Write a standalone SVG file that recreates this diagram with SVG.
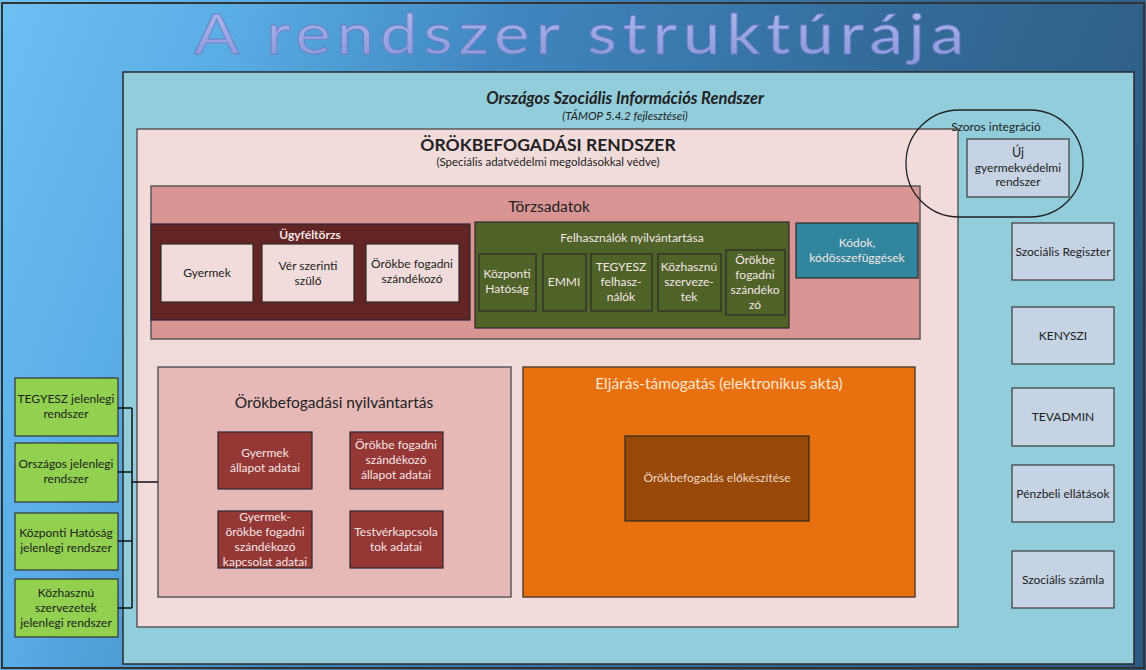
<svg xmlns="http://www.w3.org/2000/svg" width="1146" height="670" viewBox="0 0 1146 670">
  <defs>
    <linearGradient id="bg" x1="0" y1="0" x2="1146" y2="420" gradientUnits="userSpaceOnUse">
      <stop offset="0" stop-color="#6cc0f2"/>
      <stop offset="0.18" stop-color="#5aaee6"/>
      <stop offset="0.4" stop-color="#3f86bf"/>
      <stop offset="0.7" stop-color="#336b98"/>
      <stop offset="1" stop-color="#2c5a80"/>
    </linearGradient>
    <linearGradient id="titleFill" x1="0" y1="0" x2="0" y2="1">
      <stop offset="0" stop-color="#b3bdee"/>
      <stop offset="1" stop-color="#8895d8"/>
    </linearGradient>
  </defs>
  <style>
    text { font-family: Lato, "Open Sans", "Liberation Sans", sans-serif; text-anchor: middle; }
    .frame { stroke: #5a5a5a; stroke-width: 1.5; }
    .box { stroke: #2b2b2b; stroke-width: 1.2; }
    .ext { fill: #c6d3e4; stroke: #3a3a3a; stroke-width: 1.2; }
    .legacy { fill: #92d050; stroke: #333; stroke-width: 1.2; }
    .wire { fill: none; stroke: #111; stroke-width: 1.5; }
    .sm { font-size: 12px; }
    .dark { fill: #222; }
    .light { fill: #f3e6e6; }
  </style>

  <!-- slide background -->
  <rect x="0" y="0" width="1146" height="670" fill="url(#bg)"/>
  <rect x="2" y="3" width="1142" height="665" fill="none" stroke="#333" stroke-width="2"/>

  <!-- heading -->
  <text x="582" y="54" font-size="57" letter-spacing="5" fill="url(#titleFill)" stroke="#6d7cc4" stroke-width="0.8" textLength="776" lengthAdjust="spacingAndGlyphs">A rendszer struktúrája</text>

  <!-- national system container -->
  <g id="osir">
    <rect x="123" y="72" width="1011" height="592" fill="#92cddc" stroke="#2b2b2b" stroke-width="1.5"/>
    <text x="625" y="104" font-size="16.5" font-weight="bold" font-style="italic" class="dark">Országos Szociális Információs Rendszer</text>
    <text x="625" y="120" font-size="11.5" font-style="italic" class="dark">(TÁMOP 5.4.2 fejlesztései)</text>
  </g>

  <!-- adoption system container -->
  <g id="adoption-system">
    <rect x="137" y="129" width="821" height="498" fill="#f2dcdb" class="frame"/>
    <text x="548" y="151" font-size="17.5" font-weight="bold" class="dark">ÖRÖKBEFOGADÁSI RENDSZER</text>
    <text x="548" y="166" font-size="11.5" class="dark">(Speciális adatvédelmi megoldásokkal védve)</text>
  </g>

  <!-- master data -->
  <g id="torzsadatok">
    <rect x="151" y="186" width="769" height="153" fill="#d99594" class="frame"/>
    <text x="549" y="212" font-size="15.5" class="dark">Törzsadatok</text>
  </g>

  <g id="ugyfeltorzs">
    <rect x="151" y="224" width="319" height="96" fill="#632523" class="box"/>
    <text x="310" y="239" font-size="12" font-weight="bold" class="light">Ügyféltörzs</text>
  </g>
  <g id="gyermek">
    <rect x="161" y="244" width="92" height="58" fill="#f2dcdb" class="box"/>
    <text x="207" y="277" class="sm dark">Gyermek</text>
  </g>
  <g id="ver-szerinti-szulo">
    <rect x="262" y="244" width="92" height="58" fill="#f2dcdb" class="box"/>
    <text x="308" y="270" class="sm dark">Vér szerinti</text>
    <text x="308" y="285" class="sm dark">szülő</text>
  </g>
  <g id="orokbe-fogadni-szandekozo">
    <rect x="366" y="244" width="93" height="58" fill="#f2dcdb" class="box"/>
    <text x="412" y="268" class="sm dark">Örökbe fogadni</text>
    <text x="412" y="283" class="sm dark">szándékozó</text>
  </g>

  <g id="felhasznalok">
    <rect x="475" y="222" width="314" height="106" fill="#4f6228" class="box"/>
    <text x="632" y="242" font-size="12" class="light">Felhasználók nyilvántartása</text>
  </g>
  <g id="kozponti-hatosag">
    <rect x="479" y="254" width="57" height="57" fill="#4f6228" class="box"/>
    <text x="507" y="278" class="sm light">Központi</text>
    <text x="507" y="293" class="sm light">Hatóság</text>
  </g>
  <g id="emmi">
    <rect x="543" y="254" width="43" height="57" fill="#4f6228" class="box"/>
    <text x="564" y="286" class="sm light">EMMI</text>
  </g>
  <g id="tegyesz-felhasznalok">
    <rect x="591" y="254" width="61" height="57" fill="#4f6228" class="box"/>
    <text x="621" y="271" class="sm light">TEGYESZ</text>
    <text x="621" y="286" class="sm light">felhasz-</text>
    <text x="621" y="301" class="sm light">nálók</text>
  </g>
  <g id="kozhasznu-szervezetek">
    <rect x="658" y="254" width="63" height="57" fill="#4f6228" class="box"/>
    <text x="689" y="271" class="sm light">Közhasznú</text>
    <text x="689" y="286" class="sm light">szerveze-</text>
    <text x="689" y="301" class="sm light">tek</text>
  </g>
  <g id="orokbe-fogadni-szandekozo-felhasznalo">
    <rect x="726" y="250" width="59" height="65" fill="#4f6228" class="box"/>
    <text x="755" y="264" class="sm light">Örökbe</text>
    <text x="755" y="279" class="sm light">fogadni</text>
    <text x="755" y="294" class="sm light">szándéko</text>
    <text x="755" y="309" class="sm light">zó</text>
  </g>

  <g id="kodok">
    <rect x="796" y="223" width="122" height="55" fill="#31859c" class="box"/>
    <text x="857" y="247" class="sm light">Kódok,</text>
    <text x="857" y="262" class="sm light">kódösszefüggések</text>
  </g>

  <!-- adoption register -->
  <g id="orokbefogadasi-nyilvantartas">
    <rect x="158" y="367" width="353" height="230" fill="#e6b9b8" class="frame"/>
    <text x="334" y="408" font-size="15.5" class="dark">Örökbefogadási nyilvántartás</text>
  </g>
  <g id="gyermek-allapot">
    <rect x="218" y="432" width="94" height="57" fill="#953735" class="box"/>
    <text x="265" y="457" class="sm light">Gyermek</text>
    <text x="265" y="472" class="sm light">állapot adatai</text>
  </g>
  <g id="szandekozo-allapot">
    <rect x="350" y="432" width="93" height="57" fill="#953735" class="box"/>
    <text x="396" y="449" class="sm light">Örökbe fogadni</text>
    <text x="396" y="464" class="sm light">szándékozó</text>
    <text x="396" y="479" class="sm light">állapot adatai</text>
  </g>
  <g id="kapcsolat-adatai">
    <rect x="218" y="511" width="94" height="57" fill="#953735" class="box"/>
    <text x="265" y="521" class="sm light">Gyermek-</text>
    <text x="265" y="536" class="sm light">örökbe fogadni</text>
    <text x="265" y="551" class="sm light">szándékozó</text>
    <text x="265" y="566" class="sm light">kapcsolat adatai</text>
  </g>
  <g id="testverkapcsolatok">
    <rect x="350" y="511" width="93" height="57" fill="#953735" class="box"/>
    <text x="396" y="536" class="sm light">Testvérkapcsola</text>
    <text x="396" y="551" class="sm light">tok adatai</text>
  </g>

  <!-- procedure support -->
  <g id="eljaras-tamogatas">
    <rect x="523" y="367" width="392" height="230" fill="#e8700e" stroke="#5a4030" stroke-width="1.5"/>
    <text x="719" y="389" font-size="15.5" fill="#fbe6d2">Eljárás-támogatás (elektronikus akta)</text>
  </g>
  <g id="elokeszites">
    <rect x="625" y="436" width="184" height="85" fill="#984807" class="box"/>
    <text x="717" y="482" class="sm" fill="#f0d8c4">Örökbefogadás előkészítése</text>
  </g>

  <!-- tight integration -->
  <g id="szoros-integracio">
    <rect x="906" y="110" width="177" height="107" rx="53" ry="53" fill="none" stroke="#222" stroke-width="1.3"/>
    <text x="996" y="131" class="sm dark">Szoros integráció</text>
  </g>
  <g id="uj-gyermekvedelmi">
    <rect x="967" y="139" width="102" height="58" class="ext"/>
    <text x="1018" y="157" font-size="12.5" class="dark">Új</text>
    <text x="1018" y="172" class="sm dark">gyermekvédelmi</text>
    <text x="1018" y="186" class="sm dark">rendszer</text>
  </g>

  <!-- external registers -->
  <g id="szocialis-regiszter">
    <rect x="1012" y="223" width="102" height="57" class="ext"/>
    <text x="1063" y="256" class="sm dark">Szociális Regiszter</text>
  </g>
  <g id="kenyszi">
    <rect x="1012" y="307" width="102" height="57" class="ext"/>
    <text x="1063" y="340" class="sm dark">KENYSZI</text>
  </g>
  <g id="tevadmin">
    <rect x="1012" y="388" width="102" height="58" class="ext"/>
    <text x="1063" y="421" class="sm dark">TEVADMIN</text>
  </g>
  <g id="penzbeli-ellatasok">
    <rect x="1012" y="465" width="102" height="57" class="ext"/>
    <text x="1063" y="498" class="sm dark">Pénzbeli ellátások</text>
  </g>
  <g id="szocialis-szamla">
    <rect x="1012" y="551" width="102" height="57" class="ext"/>
    <text x="1063" y="584" class="sm dark">Szociális számla</text>
  </g>

  <!-- legacy systems -->
  <g id="tegyesz-jelenlegi">
    <rect x="15" y="378" width="103" height="58" class="legacy"/>
    <text x="66" y="403" class="sm dark">TEGYESZ jelenlegi</text>
    <text x="66" y="418" class="sm dark">rendszer</text>
  </g>
  <g id="orszagos-jelenlegi">
    <rect x="15" y="443" width="103" height="59" class="legacy"/>
    <text x="66" y="468" class="sm dark">Országos jelenlegi</text>
    <text x="66" y="483" class="sm dark">rendszer</text>
  </g>
  <g id="kozponti-hatosag-jelenlegi">
    <rect x="15" y="513" width="103" height="57" class="legacy"/>
    <text x="66" y="537" class="sm dark">Központi Hatóság</text>
    <text x="66" y="552" class="sm dark">jelenlegi rendszer</text>
  </g>
  <g id="kozhasznu-jelenlegi">
    <rect x="15" y="579" width="103" height="58" class="legacy"/>
    <text x="66" y="597" class="sm dark">Közhasznú</text>
    <text x="66" y="612" class="sm dark">szervezetek</text>
    <text x="66" y="627" class="sm dark">jelenlegi rendszer</text>
  </g>

  <!-- connectors -->
  <g id="connectors">
    <path class="wire" d="M118 408 H132 M118 472 H132 M118 541 H132 M118 608 H132 M132 408 V608 M132 482 H158"/>
  </g>
</svg>
